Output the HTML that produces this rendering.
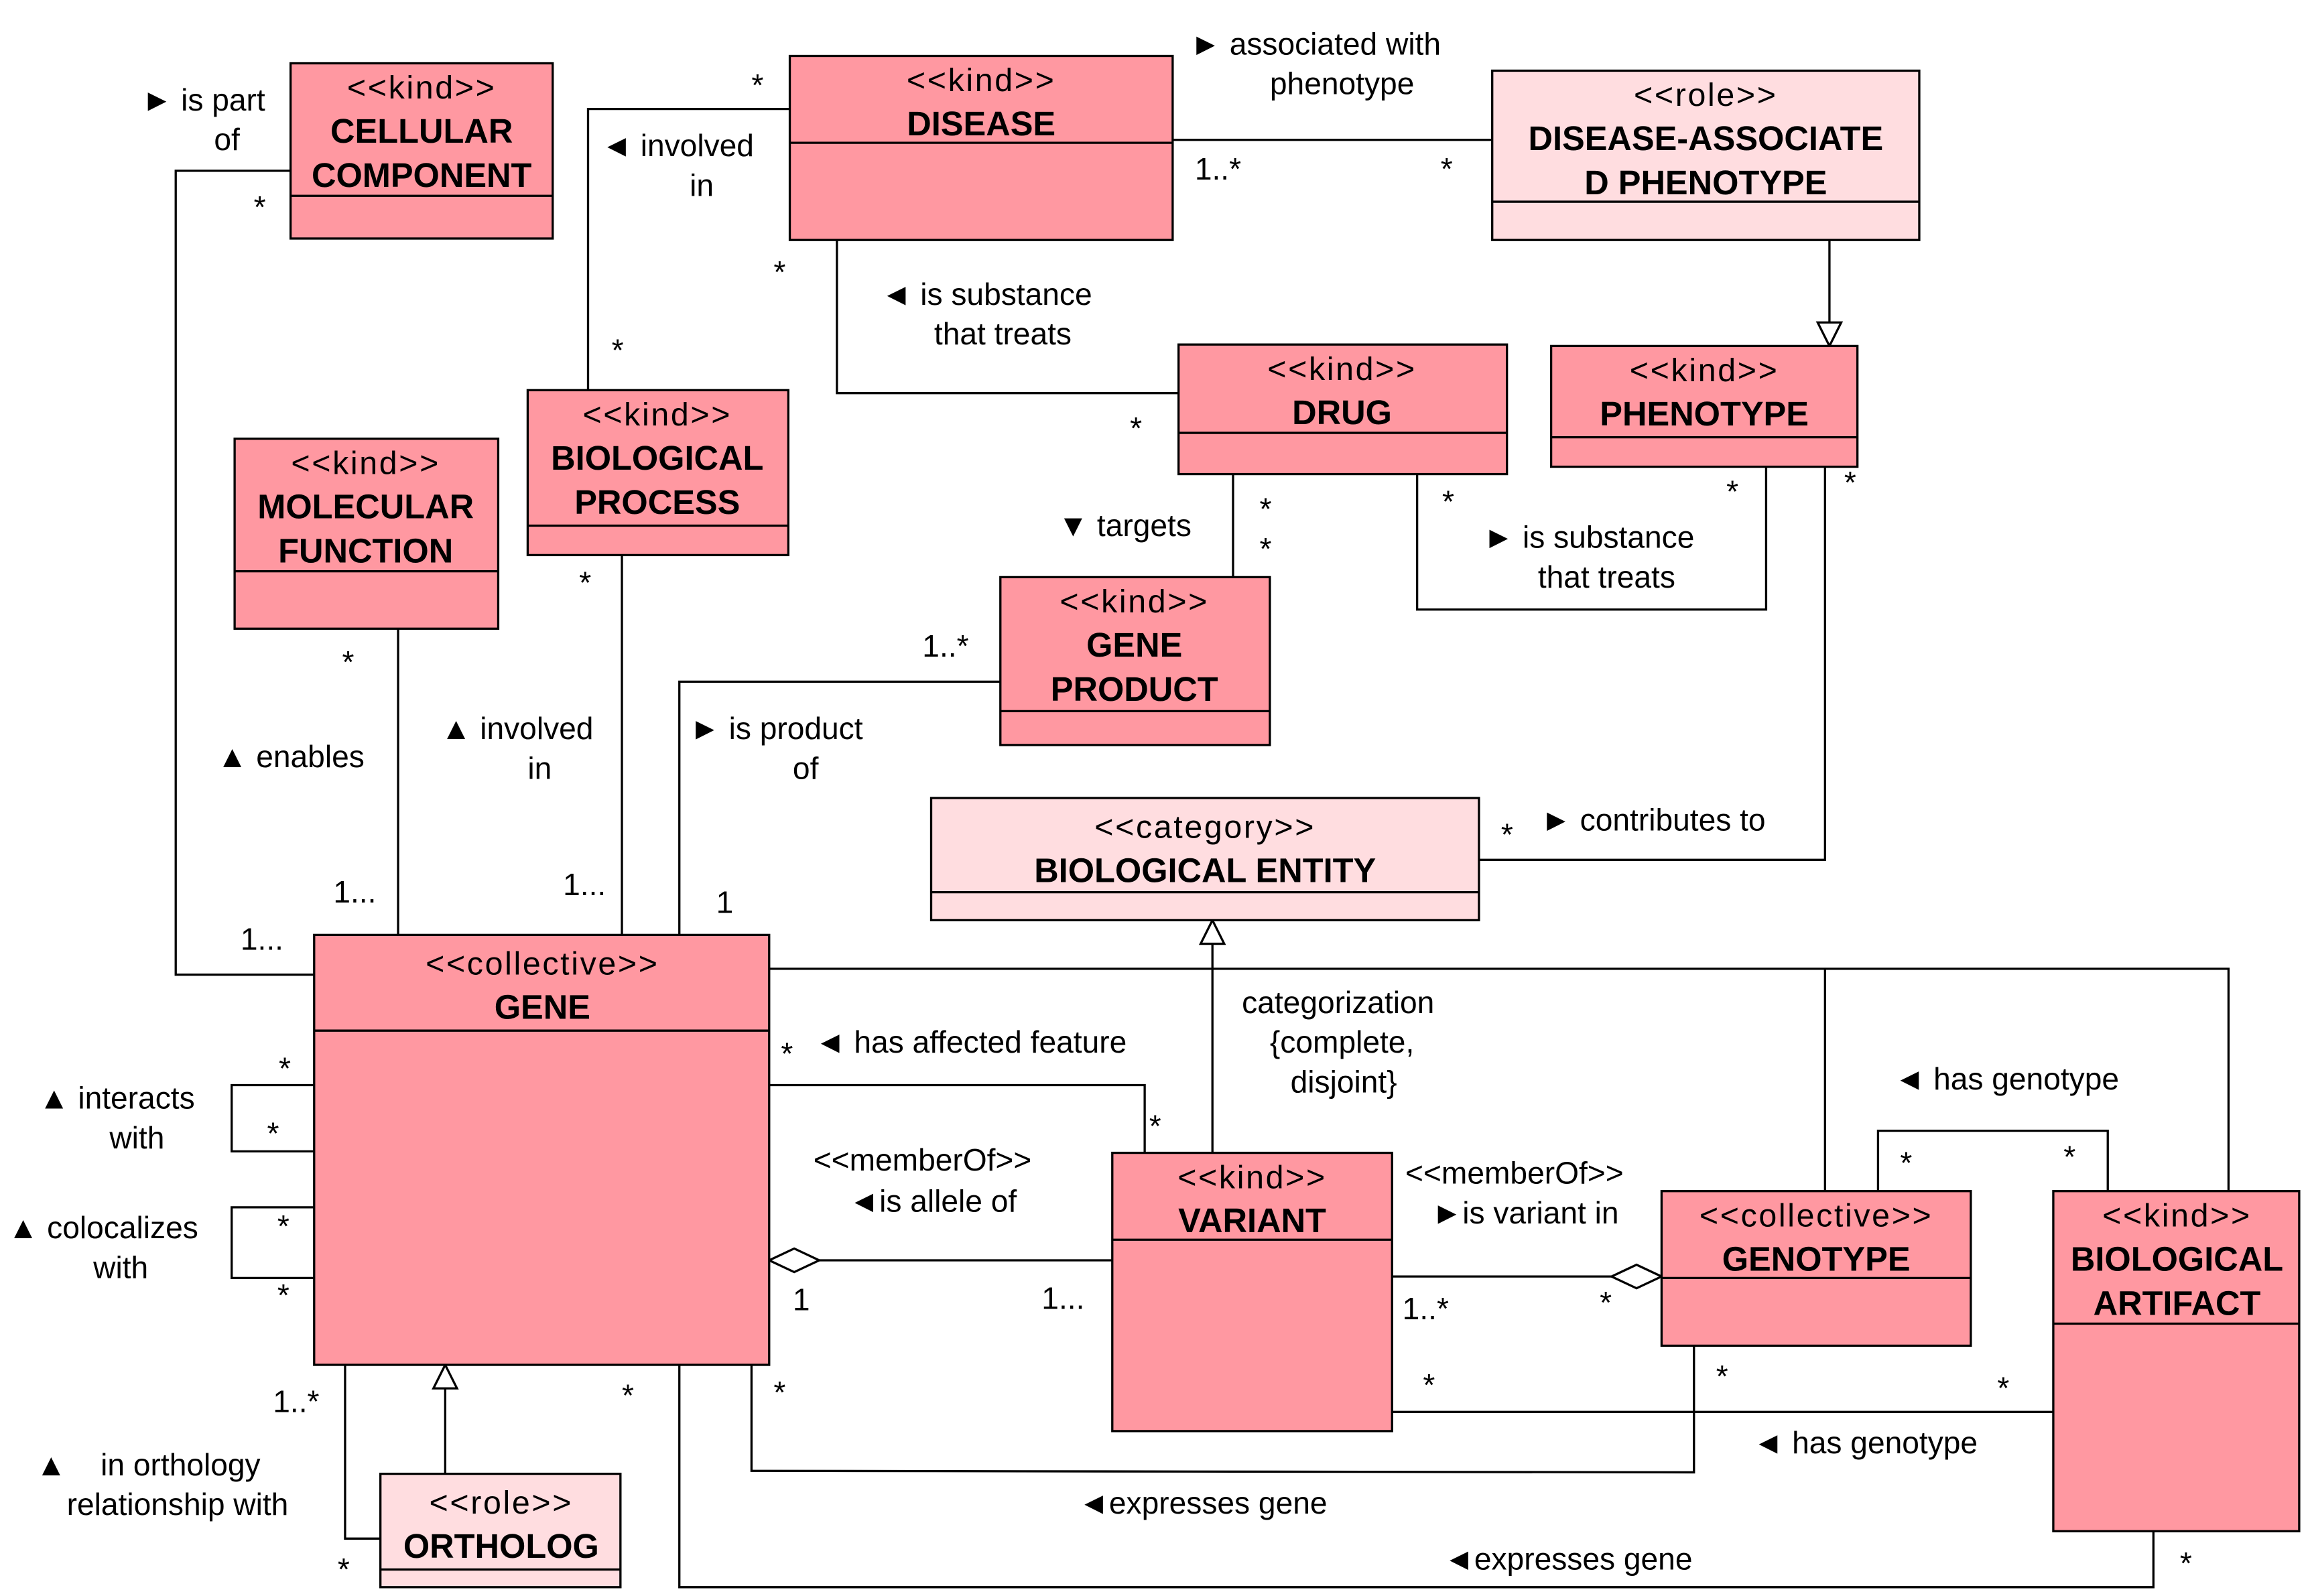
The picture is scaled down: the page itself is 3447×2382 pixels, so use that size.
<!DOCTYPE html>
<html><head><meta charset="utf-8"><style>
html,body{margin:0;padding:0;background:#fff;}
svg{display:block;}
text{font-family:"Liberation Sans",sans-serif;fill:#000;}
.s{font-size:22px;letter-spacing:1.2px;}
.b{font-size:23px;font-weight:bold;}
.l{font-size:21px;}
</style></head><body>
<svg width="3447" height="2382" viewBox="0 0 1568 1084" xmlns="http://www.w3.org/2000/svg">
<g stroke="#000" stroke-width="1.5" fill="none">
<polyline points="197,116 119,116 119,662 213,662"/>
<polyline points="536,74 399,74 399,265"/>
<line x1="796" y1="95" x2="1013" y2="95"/>
<polyline points="568,163 568,267 800,267"/>
<line x1="1242" y1="163" x2="1242" y2="219"/>
<line x1="837" y1="322" x2="837" y2="392"/>
<polyline points="962,322 962,414 1199,414 1199,317"/>
<polyline points="1239,317 1239,584 1004,584"/>
<line x1="422" y1="377" x2="422" y2="635"/>
<line x1="270" y1="427" x2="270" y2="635"/>
<polyline points="679,463 461,463 461,635"/>
<line x1="823" y1="783" x2="823" y2="641"/>
<polyline points="522,658 1513,658 1513,809"/>
<line x1="1239" y1="658" x2="1239" y2="809"/>
<polyline points="522,737 777,737 777,783"/>
<polyline points="213,737 157,737 157,782 213,782"/>
<polyline points="213,820 157,820 157,868 213,868"/>
<line x1="556" y1="856" x2="755" y2="856"/>
<line x1="945" y1="867" x2="1094" y2="867"/>
<polyline points="1275,809 1275,768 1431,768 1431,809"/>
<line x1="945" y1="959" x2="1394" y2="959"/>
<polyline points="510,927 510,999 1150,1000 1150,914"/>
<polyline points="461,927 461,1078 1462,1078 1462,1040"/>
<line x1="302" y1="1001" x2="302" y2="943"/>
<polyline points="234,927 234,1045 258,1045"/>
</g>
<g stroke="#000" stroke-width="1.5" fill="#fff">
<polygon points="1242,235 1234,219 1250,219"/>
<polygon points="823,625 815,641 831,641"/>
<polygon points="302,927 294,943 310,943"/>
<polygon points="522,856 539,848 556,856 539,864"/>
<polygon points="1128,867 1111,859 1094,867 1111,875"/>
</g>
<g stroke="#000" stroke-width="1.5">
<rect x="197" y="43" width="178" height="119" fill="#FF98A1"/><line x1="197" y1="133" x2="375" y2="133"/>
<rect x="536" y="38" width="260" height="125" fill="#FF98A1"/><line x1="536" y1="97" x2="796" y2="97"/>
<rect x="1013" y="48" width="290" height="115" fill="#FFDDE0"/><line x1="1013" y1="137" x2="1303" y2="137"/>
<rect x="800" y="234" width="223" height="88" fill="#FF98A1"/><line x1="800" y1="294" x2="1023" y2="294"/>
<rect x="1053" y="235" width="208" height="82" fill="#FF98A1"/><line x1="1053" y1="297" x2="1261" y2="297"/>
<rect x="358" y="265" width="177" height="112" fill="#FF98A1"/><line x1="358" y1="357" x2="535" y2="357"/>
<rect x="159" y="298" width="179" height="129" fill="#FF98A1"/><line x1="159" y1="388" x2="338" y2="388"/>
<rect x="679" y="392" width="183" height="114" fill="#FF98A1"/><line x1="679" y1="483" x2="862" y2="483"/>
<rect x="632" y="542" width="372" height="83" fill="#FFDDE0"/><line x1="632" y1="606" x2="1004" y2="606"/>
<rect x="213" y="635" width="309" height="292" fill="#FF98A1"/><line x1="213" y1="700" x2="522" y2="700"/>
<rect x="755" y="783" width="190" height="189" fill="#FF98A1"/><line x1="755" y1="842" x2="945" y2="842"/>
<rect x="1128" y="809" width="210" height="105" fill="#FF98A1"/><line x1="1128" y1="868" x2="1338" y2="868"/>
<rect x="1394" y="809" width="167" height="231" fill="#FF98A1"/><line x1="1394" y1="899" x2="1561" y2="899"/>
<rect x="258" y="1001" width="163" height="77" fill="#FFDDE0"/><line x1="258" y1="1066" x2="421" y2="1066"/>
</g>
<g text-anchor="middle">
<text class="s" x="286" y="67">&lt;&lt;kind&gt;&gt;</text><text class="b" x="286" y="97">CELLULAR</text><text class="b" x="286" y="127">COMPONENT</text>
<text class="s" x="666" y="62">&lt;&lt;kind&gt;&gt;</text><text class="b" x="666" y="92">DISEASE</text>
<text class="s" x="1158" y="72">&lt;&lt;role&gt;&gt;</text><text class="b" x="1158" y="102">DISEASE-ASSOCIATE</text><text class="b" x="1158" y="132">D PHENOTYPE</text>
<text class="s" x="911" y="258">&lt;&lt;kind&gt;&gt;</text><text class="b" x="911" y="288">DRUG</text>
<text class="s" x="1157" y="259">&lt;&lt;kind&gt;&gt;</text><text class="b" x="1157" y="289">PHENOTYPE</text>
<text class="s" x="446" y="289">&lt;&lt;kind&gt;&gt;</text><text class="b" x="446" y="319">BIOLOGICAL</text><text class="b" x="446" y="349">PROCESS</text>
<text class="s" x="248" y="322">&lt;&lt;kind&gt;&gt;</text><text class="b" x="248" y="352">MOLECULAR</text><text class="b" x="248" y="382">FUNCTION</text>
<text class="s" x="770" y="416">&lt;&lt;kind&gt;&gt;</text><text class="b" x="770" y="446">GENE</text><text class="b" x="770" y="476">PRODUCT</text>
<text class="s" x="818" y="569">&lt;&lt;category&gt;&gt;</text><text class="b" x="818" y="599">BIOLOGICAL ENTITY</text>
<text class="s" x="368" y="662">&lt;&lt;collective&gt;&gt;</text><text class="b" x="368" y="692">GENE</text>
<text class="s" x="850" y="807">&lt;&lt;kind&gt;&gt;</text><text class="b" x="850" y="837">VARIANT</text>
<text class="s" x="1233" y="833">&lt;&lt;collective&gt;&gt;</text><text class="b" x="1233" y="863">GENOTYPE</text>
<text class="s" x="1478" y="833">&lt;&lt;kind&gt;&gt;</text><text class="b" x="1478" y="863">BIOLOGICAL</text><text class="b" x="1478" y="893">ARTIFACT</text>
<text class="s" x="340" y="1028">&lt;&lt;role&gt;&gt;</text><text class="b" x="340" y="1058">ORTHOLOG</text>
</g>
<g class="l">
<text x="96" y="75">► is part</text><text x="145" y="102">of</text>
<text x="408" y="106">◄ involved</text><text x="468" y="133">in</text>
<text x="808" y="37">► associated with</text><text x="862" y="64">phenotype</text>
<text x="598" y="207">◄ is substance</text><text x="634" y="234">that treats</text>
<text x="718" y="364">▼ targets</text>
<text x="1007" y="372">► is substance</text><text x="1044" y="399">that treats</text>
<text x="147" y="521">▲ enables</text>
<text x="299" y="502">▲ involved</text><text x="358" y="529">in</text>
<text x="468" y="502">► is product</text><text x="538" y="529">of</text>
<text x="1046" y="564">► contributes to</text>
<text x="843" y="688">categorization</text><text x="862" y="715">{complete,</text><text x="876" y="742">disjoint}</text>
<text x="553" y="715">◄ has affected feature</text>
<text x="1286" y="740">◄ has genotype</text>
<text x="552" y="795">&lt;&lt;memberOf&gt;&gt;</text><text x="576" y="823">◄is allele of</text>
<text x="954" y="804">&lt;&lt;memberOf&gt;&gt;</text><text x="972" y="831">►is variant in</text>
<text x="26" y="753">▲ interacts</text><text x="74" y="780">with</text>
<text x="5" y="841">▲ colocalizes</text><text x="63" y="868">with</text>
<text x="24" y="1002">▲</text><text x="68" y="1002">in orthology</text><text x="45" y="1029">relationship with</text>
<text x="1190" y="987">◄ has genotype</text>
<text x="732" y="1028">◄expresses gene</text>
<text x="980" y="1066">◄expresses gene</text>
<text x="510" y="65">*</text><text x="172" y="148">*</text><text x="811" y="122">1..*</text><text x="978" y="122">*</text>
<text x="525" y="192">*</text><text x="415" y="245">*</text><text x="767" y="298">*</text>
<text x="855" y="353">*</text><text x="855" y="380">*</text><text x="979" y="348">*</text><text x="1172" y="341">*</text><text x="1252" y="335">*</text>
<text x="393" y="403">*</text><text x="232" y="457">*</text><text x="626" y="446">1..*</text>
<text x="226" y="613">1...</text><text x="382" y="608">1...</text><text x="486" y="620">1</text><text x="163" y="645">1...</text>
<text x="1019" y="574">*</text><text x="530" y="723">*</text><text x="780" y="772">*</text>
<text x="189" y="733">*</text><text x="181" y="777">*</text><text x="188" y="840">*</text><text x="188" y="887">*</text>
<text x="538" y="890">1</text><text x="707" y="889">1...</text><text x="952" y="896">1..*</text><text x="1086" y="892">*</text>
<text x="1290" y="797">*</text><text x="1401" y="793">*</text>
<text x="185" y="959">1..*</text><text x="422" y="955">*</text><text x="525" y="953">*</text><text x="966" y="948">*</text><text x="1165" y="942">*</text><text x="1356" y="950">*</text>
<text x="229" y="1073">*</text><text x="1480" y="1069">*</text>
</g>
</svg>
</body></html>
